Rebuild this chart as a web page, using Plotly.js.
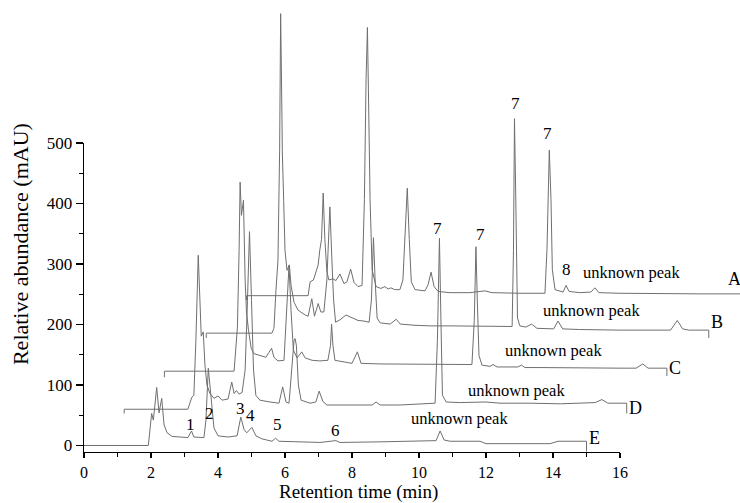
<!DOCTYPE html>
<html>
<head>
<meta charset="utf-8">
<script src="https://cdn.plot.ly/plotly-3.0.1.min.js"></script>
<style>html,body{margin:0;padding:0;background:#fff;}#chart{width:740px;height:503px;}</style>
</head>
<body>
<div id="chart"></div>
<script>
// Sample labels (bottom to top) and the stacking offsets of the staggered plot
const traceNames = ['E', 'D', 'C', 'B', 'A'];
const xShift = [0, 1.2, 2.4, 3.65, 4.85];      // min
const yShift = [0, 60, 123, 186, 248];         // mAU

// Trace E
const tE = [0,1.92,2.02,2.07,2.17,2.24,2.32,2.39,2.48,2.63,2.87,3.10,3.21,3.28,3.58,3.64,3.71,3.77,3.82,3.88,4.00,4.30,4.57,4.68,4.78,4.86,5.01,5.13,5.31,5.61,5.72,5.82,6.45,7.04,7.52,7.64,8.84,9.43,10.03,10.51,10.63,10.75,10.93,11.82,12.0,13.91,14.15,14.51,15.0,15.0];
const vE = [0,0,53,42,96,54,78,34,21,15,14,13,24,14,13,42,128,89,59,29,16,14,16,47,26,21,30,16,11,7,12,7,6,5,8,5,6,7,7,8,24,9,7,7,3,3,7,7,7,-10];

// Trace D
const tD = [0,0,1.90,1.96,2.02,2.08,2.14,2.21,2.27,2.30,2.36,2.41,2.47,2.56,2.68,2.80,2.92,3.10,3.21,3.28,3.35,3.43,3.52,3.61,3.68,3.74,3.80,3.86,3.93,4.05,4.35,4.62,4.73,4.83,4.92,5.01,5.07,5.10,5.14,5.20,5.28,5.55,5.72,5.82,5.93,6.05,6.74,7.40,7.52,7.64,8.23,8.83,9.28,9.35,9.41,9.46,9.50,9.61,10.02,10.80,11.22,12.11,13.02,14.06,14.26,14.44,15.0,15.0];
const vD = [-7,0,0,10,20,23,114,255,164,121,128,73,40,26,18,22,15,17,45,26,31,25,28,65,180,294,180,65,23,15,12,10,37,12,10,65,114,117,106,40,15,10,12,30,13,7,7,7,12,7,7,8,10,114,283,131,23,12,11,12,10,10,9,11,16,10,10,-7];

// Trace C
const tC = [0,0,2.08,2.12,2.18,2.23,2.26,2.30,2.36,2.41,2.45,2.51,2.59,2.67,2.85,3.03,3.12,3.20,3.27,3.39,3.57,3.64,3.72,3.78,3.85,3.96,4.10,4.20,4.41,4.64,4.88,4.96,4.99,5.03,5.09,5.39,5.60,5.76,5.87,6.44,7.03,7.63,8.22,8.82,9.18,9.25,9.30,9.34,9.39,9.48,9.72,9.81,9.93,10.32,10.55,10.66,10.76,11.21,12.41,13.60,14.08,14.28,14.44,15.0,15.0];
const vC = [-10,0,0,26,73,200,313,258,283,151,98,68,38,29,26,23,31,38,23,17,18,84,175,101,35,22,32,22,18,17,18,43,78,43,18,15,13,32,13,12,12,12,12,12,11,84,206,118,26,10,8,11,7,7,7,10,6,6,5,5,5,12,5,5,-8];

// Trace B
const tB = [0,0,1.96,2.02,2.08,2.14,2.19,2.22,2.26,2.27,2.31,2.35,2.41,2.48,2.53,2.62,2.74,2.86,2.95,3.04,3.15,3.23,3.34,3.42,3.51,3.60,3.69,3.75,3.80,3.86,3.99,4.17,4.35,4.53,4.71,4.86,4.93,4.99,5.04,5.10,5.19,5.49,5.67,5.79,6.23,6.68,7.28,7.88,8.47,8.92,9.13,9.17,9.20,9.24,9.29,9.36,9.54,9.71,9.87,10.37,10.50,10.64,11.14,12.31,13.51,13.86,14.06,14.22,14.40,15.0,15.0];
const vB = [-8,0,0,8,71,121,303,529,353,300,220,137,104,113,79,51,38,33,30,28,57,28,49,35,35,88,209,121,55,18,22,30,26,21,20,18,55,158,88,25,17,15,23,15,13,12,12,12,12,11,11,137,355,220,25,12,10,15,8,7,20,7,6,5,5,5,21,7,5,5,-8];

// Trace A
const tA = [0,0,1.84,1.90,2.00,2.07,2.14,2.19,2.24,2.29,2.34,2.40,2.46,2.58,2.67,2.79,2.91,3.00,3.11,3.21,3.33,3.45,3.52,3.57,3.61,3.64,3.69,3.75,3.87,4.01,4.13,4.23,4.31,4.43,4.58,4.67,4.73,4.80,4.86,4.92,5.03,5.33,5.42,5.51,5.60,5.72,6.07,6.67,7.12,7.33,8.16,8.91,8.97,9.04,9.09,9.13,9.21,9.36,9.45,9.54,9.63,9.96,10.28,10.40,10.52,11.15,12.34,13.54,14.13,14.73,15.0,15.0];
const vA = [-8,0,0,23,26,38,51,76,93,170,93,40,26,28,25,36,20,23,44,22,15,17,159,358,444,341,159,43,15,12,15,11,13,10,10,26,109,178,93,23,10,8,18,39,15,7,5,5,8,5,4,4,76,241,159,43,10,7,6,17,7,5,6,13,5,4,3,3,3,3,3,-10];

// Axis ticks
const xTickVals = [0,2,4,6,8,10,12,14,16];
const xMinorVals = [1,3,5,7,9,11,13,15];
const yTickVals = [0,100,200,300,400,500];
const yMinorVals = [50,150,250,350,450];

// Peak labels: [text, retention time on the stacked axis, mAU on the stacked axis]
const peakLabels = [
  ['1', 3.19, 34], ['2', 3.76, 53], ['3', 4.66, 62], ['4', 4.98, 49],
  ['5', 5.77, 34], ['6', 7.50, 25],
  ['7', 10.55, 360], ['7', 11.84, 349], ['7', 12.87, 567], ['7', 13.84, 516],
  ['8', 14.39, 291]
];
const unknownLabels = [
  ['unknown peak', 16.35, 286], ['unknown peak', 15.16, 224], ['unknown peak', 14.00, 157],
  ['unknown peak', 12.92, 91], ['unknown peak', 11.22, 45]
];
const sampleLabels = [
  ['A', 19.43, 276], ['B', 18.90, 205], ['C', 17.64, 128], ['D', 16.45, 62], ['E', 15.25, 12]
];
const xTitle = 'Retention time (min)';
const yTitle = 'Relative abundance (mAU)';

const series = [[tE, vE], [tD, vD], [tC, vC], [tB, vB], [tA, vA]];
const traces = series.map((s, i) => ({
  type: 'scatter', mode: 'lines', name: traceNames[i],
  x: s[0].map(t => t + xShift[i]),
  y: s[1].map(v => v + yShift[i]),
  xaxis: 'x2', yaxis: 'y2',
  line: {color: '#6f6f6f', width: 1},
  hoverinfo: 'skip'
}));
// empty trace so that the visible (0-16 min, 0-500 mAU) axes are drawn
traces.unshift({type: 'scatter', mode: 'lines', x: [null], y: [null], xaxis: 'x', yaxis: 'y', showlegend: false, hoverinfo: 'skip'});

const serif = '"Liberation Serif", "Times New Roman", "DejaVu Serif", serif';
const ann = [];
peakLabels.forEach(p => ann.push({text: p[0], x: p[1], y: p[2], xref: 'x2', yref: 'y2', showarrow: false, font: {size: 17, family: serif, color: '#000'}}));
unknownLabels.forEach(p => ann.push({text: p[0], x: p[1], y: p[2], xref: 'x2', yref: 'y2', showarrow: false, font: {size: 16.5, family: serif, color: '#000'}}));
sampleLabels.forEach(p => ann.push({text: p[0], x: p[1], y: p[2], xref: 'x2', yref: 'y2', showarrow: false, font: {size: 18, family: serif, color: '#000'}}));
// axis titles
ann.push({text: yTitle, xref: 'paper', yref: 'paper', x: -0.0976, y: 0.46, textangle: -90, showarrow: false, xanchor: 'center', yanchor: 'middle', font: {size: 22, family: serif, color: '#000'}});
ann.push({text: xTitle, xref: 'paper', yref: 'paper', x: (358 - 84) / 656, y: -40 / 452, showarrow: false, xanchor: 'center', yanchor: 'middle', font: {size: 19, family: serif, color: '#000'}});

const pxPerMin = 33.5;
const plotW = 656;
const layout = {
  width: 740, height: 503,
  margin: {l: 84, r: 0, t: 0, b: 51, pad: 0},
  paper_bgcolor: '#ffffff', plot_bgcolor: 'rgba(0,0,0,0)',
  showlegend: false,
  font: {family: serif, color: '#000', size: 16},
  xaxis: {
    domain: [0, 16 * pxPerMin / plotW], range: [0, 16], anchor: 'y',
    tickmode: 'array', tickvals: xTickVals, ticktext: xTickVals.map(String),
    ticks: 'outside', ticklen: 5, tickwidth: 1.2, tickcolor: '#000',
    minor: {tickmode: 'array', tickvals: xMinorVals, ticks: 'outside', ticklen: 4, tickwidth: 1.2, tickcolor: '#000', showgrid: false},
    showline: true, linecolor: '#000', linewidth: 1.4, showgrid: false, zeroline: false,
    tickfont: {size: 16, family: serif, color: '#000'},
    fixedrange: true
  },
  yaxis: {
    domain: [0, 309 / 452], range: [-10.8, 500], anchor: 'x',
    tickmode: 'array', tickvals: yTickVals, ticktext: yTickVals.map(String),
    ticks: 'outside', ticklen: 7, tickwidth: 1.2, tickcolor: '#000',
    minor: {tickmode: 'array', tickvals: yMinorVals, ticks: 'outside', ticklen: 4, tickwidth: 1.2, tickcolor: '#000', showgrid: false},
    showline: true, linecolor: '#000', linewidth: 1.4, showgrid: false, zeroline: false,
    tickfont: {size: 17, family: serif, color: '#000'},
    fixedrange: true
  },
  xaxis2: {domain: [0, 1], range: [0, plotW / pxPerMin], anchor: 'y2', visible: false, fixedrange: true},
  yaxis2: {domain: [0, 1], range: [-10.8, -10.8 + 452 / 0.604], anchor: 'x2', visible: false, fixedrange: true},
  annotations: ann
};

Plotly.newPlot('chart', traces, layout, {staticPlot: true, displayModeBar: false});
</script>
</body>
</html>
